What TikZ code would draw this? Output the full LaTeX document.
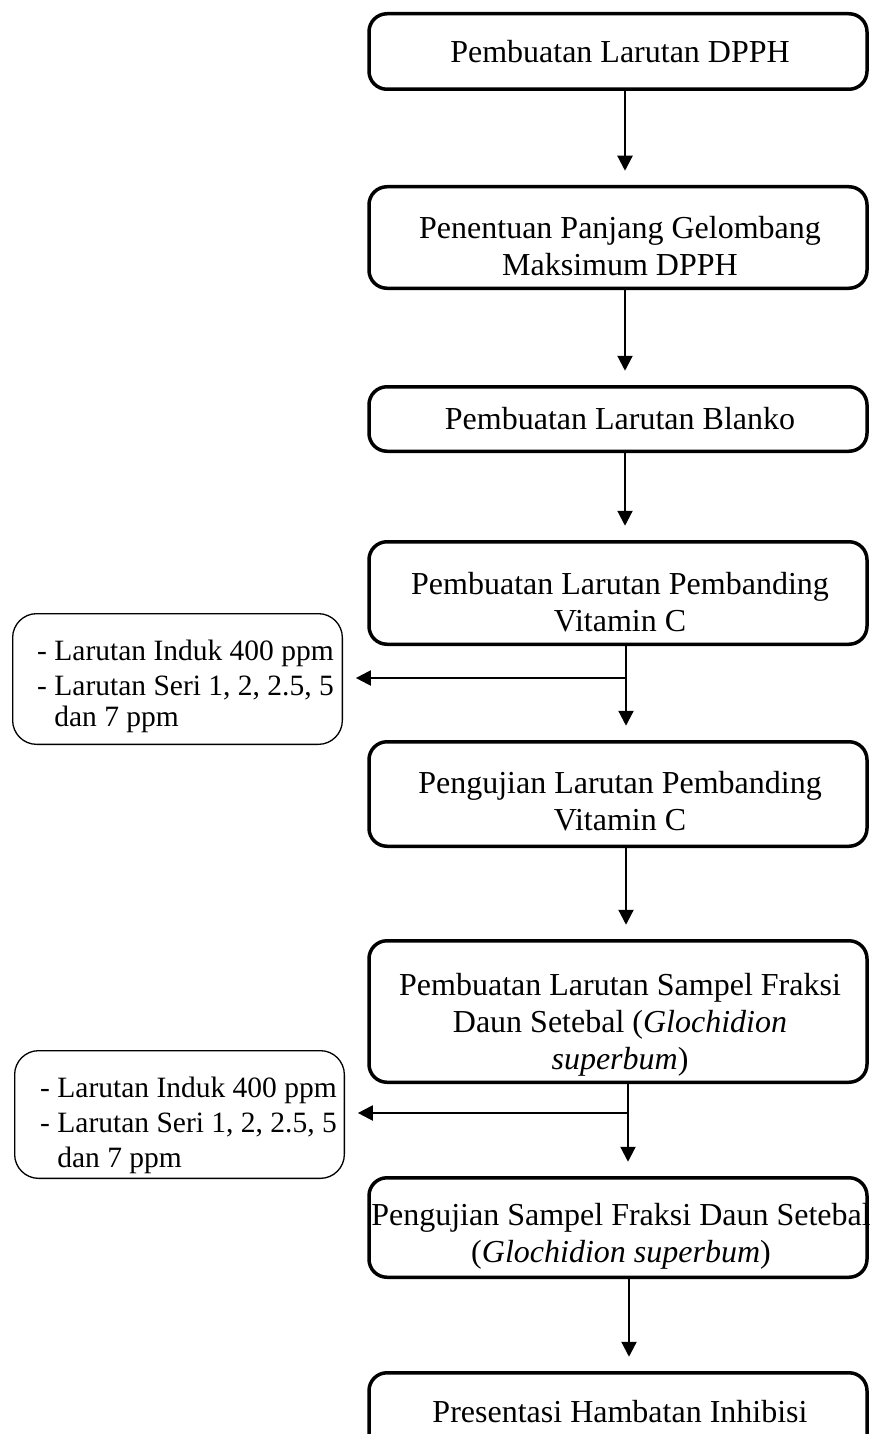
\documentclass[tikz,border=0pt]{standalone}
\usepackage{fontspec}
\setmainfont{Liberation Serif}
\usetikzlibrary{arrows.meta}
\begin{document}
\begin{tikzpicture}[x=1pt,y=-1pt,
 mainbox/.style={draw, line width=3.5pt, rounded corners=18pt, minimum width=498pt, inner sep=0pt, outer sep=0pt},
 sidebox/.style={draw, line width=1.3pt, rounded corners=24pt, minimum width=329.7pt, inner sep=0pt, outer sep=0pt},
 maintxt/.style={align=center, inner sep=0pt, font=\fontsize{32}{37}\selectfont},
 sidetxt/.style={align=left, inner sep=0pt, anchor=north west, font=\fontsize{29.5}{35}\selectfont},
 arr/.style={line width=2.2pt, -{Triangle[length=15pt,width=15pt]}, shorten >=16pt},
 sarr/.style={line width=2.2pt, -{Triangle[length=15pt,width=15pt]}, shorten >=13.5pt}]
\useasboundingbox (0,0) rectangle (872,1434);

% main boxes
\node[mainbox, minimum height=75.5pt]  (b1) at (618,51.5) {};
\node[mainbox, minimum height=101.5pt] (b2) at (618,237.5) {};
\node[mainbox, minimum height=64.5pt]  (b3) at (618,419) {};
\node[mainbox, minimum height=102.5pt] (b4) at (618,593) {};
\node[mainbox, minimum height=104.5pt] (b5) at (618,794) {};
\node[mainbox, minimum height=141.5pt] (b6) at (618,1011.5) {};
\node[mainbox, minimum height=99.5pt]  (b7) at (618,1227.5) {};
\node[mainbox, minimum height=110pt]   (b8) at (618,1427.75) {};

% main texts
\node[maintxt] (t1) at (620,52) {Pembuatan Larutan DPPH};
\node[maintxt] (t2) at (620,246) {Penentuan Panjang Gelombang\\Maksimum DPPH};
\node[maintxt] (t3) at (620,419) {Pembuatan Larutan Blanko};
\node[maintxt] (t4) at (620,602) {Pembuatan Larutan Pembanding\\Vitamin C};
\node[maintxt] (t5) at (620,801) {Pengujian Larutan Pembanding\\Vitamin C};
\node[maintxt] (t6) at (620,1025) {Pembuatan Larutan Sampel Fraksi\\Daun Setebal (\textit{Glochidion}\\\textit{superbum})};
\node[maintxt] (t7) at (621,1236) {Pengujian Sampel Fraksi Daun Setebal\\(\textit{Glochidion superbum})};
\node[maintxt] (t8) at (620,1412) {Presentasi Hambatan Inhibisi};

% side boxes
\node[sidebox, minimum height=130.7pt] (s1) at (177.5,679) {};
\node[sidebox, minimum height=127.7pt] (s2) at (179.5,1114.5) {};
\node[sidetxt] (u1) at (37,640) {- Larutan Induk 400 ppm\\- Larutan Seri 1, 2, 2.5, 5\\[-4pt]\hphantom{- }dan 7 ppm};
\node[sidetxt] (u2) at (40,1077) {- Larutan Induk 400 ppm\\- Larutan Seri 1, 2, 2.5, 5\\\hphantom{- }dan 7 ppm};

% arrow columns
\coordinate (x1) at (625,0);
\coordinate (x2) at (625,0);
\coordinate (x3) at (625,0);
\coordinate (x4) at (626,0);
\coordinate (x5) at (626,0);
\coordinate (x6) at (628,0);
\coordinate (x7) at (629,0);
\coordinate (j1) at (626,678);
\coordinate (j2) at (628,1113);

\draw[arr] (b1.south -| x1) -- (b2.north -| x1);
\draw[arr] (b2.south -| x2) -- (b3.north -| x2);
\draw[arr] (b3.south -| x3) -- (b4.north -| x3);
\draw[arr] (b4.south -| x4) -- (b5.north -| x4);
\draw[arr] (b5.south -| x5) -- (b6.north -| x5);
\draw[arr] (b6.south -| x6) -- (b7.north -| x6);
\draw[arr] (b7.south -| x7) -- (b8.north -| x7);
\draw[sarr] (j1) -- (s1.east |- j1);
\draw[sarr] (j2) -- (s2.east |- j2);
\end{tikzpicture}
\end{document}
